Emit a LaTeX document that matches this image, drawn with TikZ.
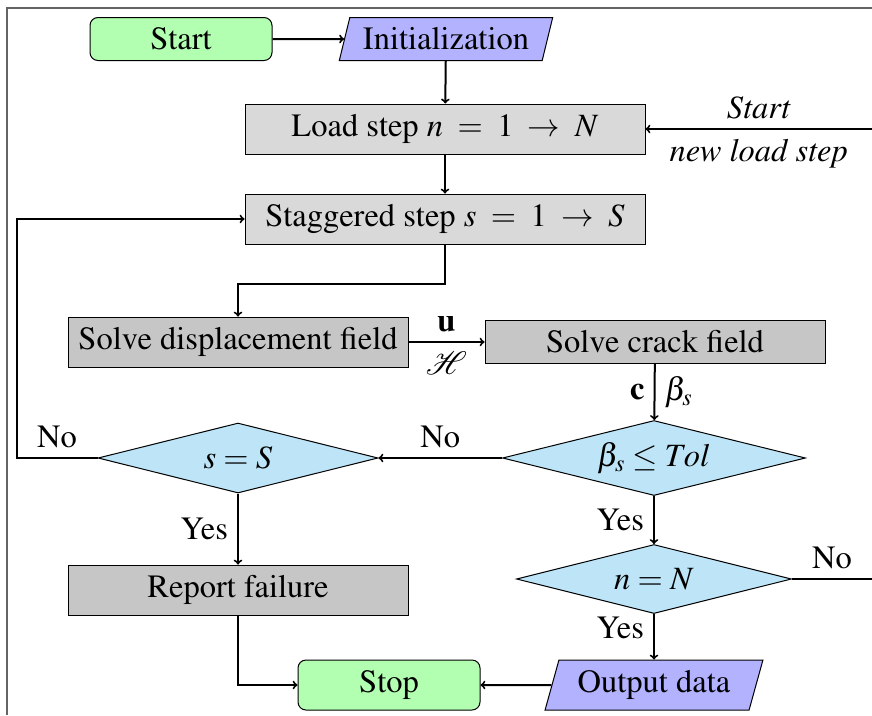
\documentclass[tikz,border=0pt]{standalone}
\usepackage[T1]{fontenc}
\usepackage{mathptmx}
\usetikzlibrary{shapes.geometric}
\usetikzlibrary{arrows}

\definecolor{decisionblue}{RGB}{189,229,247}
\definecolor{framegray}{RGB}{100,100,100}

\tikzset{
  startstop/.style={rectangle, rounded corners=8pt, draw, line width=1pt,
    fill=green!30, minimum width=182, minimum height=43},
  io/.style={trapezium, trapezium left angle=72, trapezium right angle=108,
    trapezium stretches=true, draw, line width=1pt, fill=blue!30,
    minimum width=214, minimum height=43},
  process/.style={rectangle, draw, line width=1pt, fill=gray!30,
    minimum width=400, minimum height=50},
  solver/.style={rectangle, draw, line width=1pt, fill=gray!45,
    minimum width=340, minimum height=50},
  decision/.style={diamond, aspect=4, draw, line width=1pt, fill=decisionblue,
    inner sep=0pt},
  arrow/.style={->, line width=2pt},
  lbl/.style={inner sep=9pt}
}

\begin{document}
\begin{tikzpicture}[x=1pt, y=-1pt, font=\fontsize{32.5}{38}\selectfont, >=to]
\useasboundingbox (0,0) rectangle (872,715);
% page frame
\draw[framegray, line width=2pt] (7,715) -- (7,8) -- (872,8);

\node[startstop] (start) at (181,39) {Start};
\node[io] (init) at (446,39) {Initialization};
\node[process] (load) at (445,129) {Load step $n \;=\; 1 \;\rightarrow\; N$};
\node[process] (stagger) at (445,219) {Staggered step $s \;=\; 1 \;\rightarrow\; S$};

\node[solver] (solveu) at (238,342) {Solve displacement field};
\node[solver, minimum height=43] (solvec) at (655,342) {Solve crack field};

\node[decision, minimum width=303, minimum height=75] (tolcheck) at (654,458) {$\beta_s \leq Tol$};
\node[decision, minimum width=280, minimum height=70] (scheck) at (238,458) {$s = S$};
\node[decision, minimum width=275, minimum height=69] (ncheck) at (654,579) {$n = N$};

\node[solver] (report) at (238,590) {Report failure};
\node[startstop, minimum height=50] (stop) at (389,685) {Stop};
\node[io, minimum width=218, minimum height=50] (output) at (654,685) {Output data};

\coordinate (newload) at (872,129);
\coordinate (nextload) at (872,579);

% connectors
\draw[arrow] (start) -- (init);
\draw[arrow] (init) -- (load);
\draw[arrow] (newload) -- (load)
  node[lbl, midway, above] {\textit{Start}}
  node[lbl, midway, below] {\textit{new load step}};
\draw[arrow] (load) -- (stagger);
\draw[arrow] (stagger.south) -- ++(0,39) -| (solveu.north);
\draw[arrow] (solveu) -- (solvec)
  node[lbl, midway, above] {$\mathbf{u}$}
  node[lbl, midway, below] {$\mathcal{H}$};
\draw[arrow] (solvec) -- (tolcheck)
  node[lbl, midway, left] {$\mathbf{c}$}
  node[lbl, midway, right] {$\beta_s$};
\draw[arrow] (tolcheck) -- (scheck) node[lbl, midway, above] {No};
\draw[arrow] (tolcheck) -- (ncheck) node[lbl, midway, left] {Yes};
\draw[line width=2pt] (ncheck.east) -- (nextload) node[lbl, midway, above] {No};
\draw[arrow] (ncheck) -- (output) node[lbl, pos=0.3, left] {Yes};
\draw[arrow] (output) -- (stop);
\draw[arrow] (scheck) -- (report) node[lbl, midway, left] {Yes};
\draw[arrow] (report.south) |- (stop.west);
\draw[arrow] (scheck.west) -- node[lbl, above] {No} ++(-81,0) |- (stagger.west);
\end{tikzpicture}
\end{document}
